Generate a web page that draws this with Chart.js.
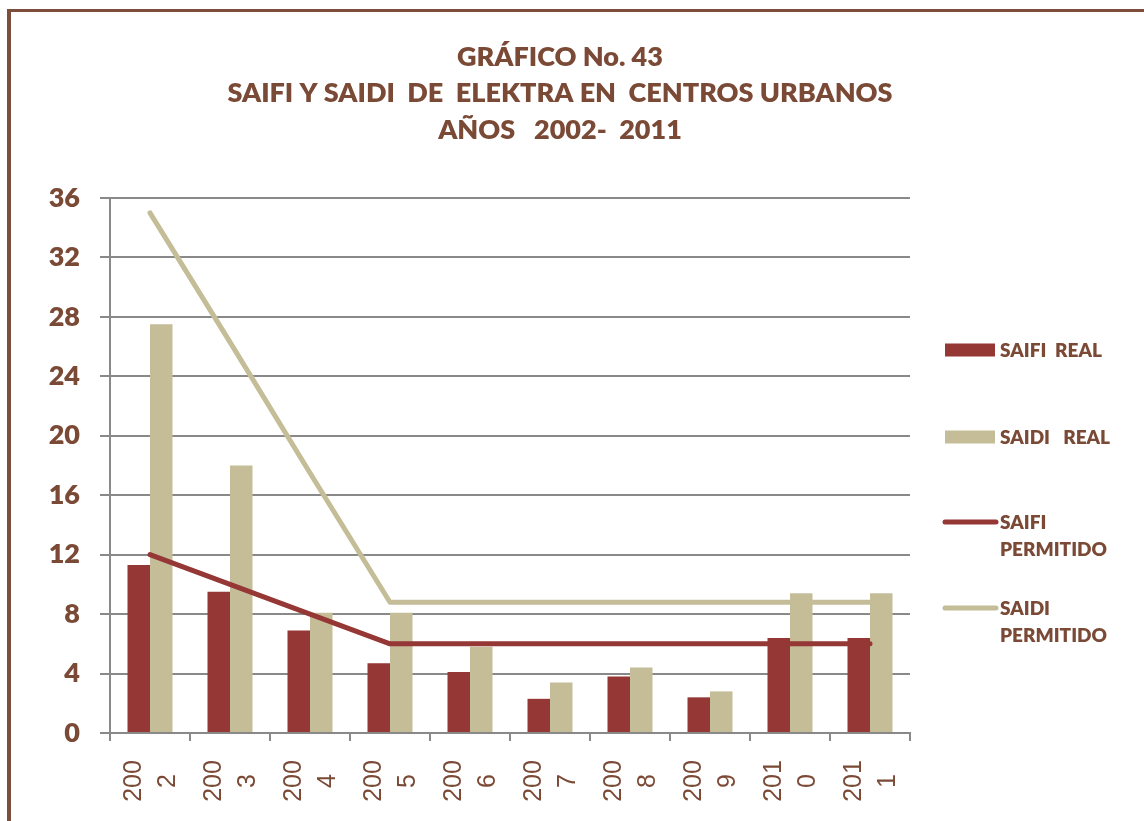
<!DOCTYPE html>
<html>
<head>
<meta charset="utf-8">
<title>SAIFI y SAIDI de Elektra</title>
<script src="https://cdn.jsdelivr.net/npm/chart.js@4.4.1/dist/chart.umd.min.js"></script>
<style>
  html, body { margin: 0; padding: 0; background: #fff; }
  #wrap { width: 1144px; height: 821px; position: relative; }
</style>
</head>
<body>
<div id="wrap"><canvas id="chart"></canvas></div>
<script>
// Values
const YEARS = ['2002', '2003', '2004', '2005', '2006', '2007', '2008', '2009', '2010', '2011'];
const SAIFI_REAL = [11.3, 9.5, 6.9, 4.7, 4.1, 2.3, 3.8, 2.4, 6.4, 6.4];
const SAIDI_REAL = [27.5, 18.0, 8.1, 8.1, 5.8, 3.4, 4.4, 2.8, 9.4, 9.4];
const SAIFI_PERMITIDO = [12, 10, 8, 6, 6, 6, 6, 6, 6, 6];
const SAIDI_PERMITIDO = [35, 26.3, 17.5, 8.8, 8.8, 8.8, 8.8, 8.8, 8.8, 8.8];
const Y_MAX = 36;
const Y_STEP = 4;

const TITLE_LINES = ['GRÁFICO No. 43', 'SAIFI Y SAIDI  DE  ELEKTRA EN  CENTROS URBANOS', 'AÑOS   2002-  2011'];
const LEGEND_LABELS = [['SAIFI  REAL'], ['SAIDI   REAL'], ['SAIFI', 'PERMITIDO'], ['SAIDI', 'PERMITIDO']];

const RED = '#953735';
const TAN = '#C4BD97';
const BROWN = '#7B4A36';
const GRID = '#898989';

// white page with the brown frame on top and left
const framePlugin = {
  id: 'frame',
  beforeDraw(chart) {
    const { ctx, width, height } = chart;
    ctx.save();
    ctx.fillStyle = '#fff';
    ctx.fillRect(0, 0, width, height);
    ctx.fillStyle = '#7D4E3B';
    ctx.fillRect(7, 9, width - 7, 3);
    ctx.fillRect(7, 9, 4, height - 9);
    ctx.restore();
  },
};

const titlePlugin = {
  id: 'pageTitle',
  afterDraw(chart) {
    const { ctx } = chart;
    ctx.save();
    ctx.fillStyle = BROWN;
    ctx.font = '800 27px Lato';
    ctx.textAlign = 'center';
    ctx.textBaseline = 'middle';
    TITLE_LINES.forEach((line, i) => ctx.fillText(line, 560, 57 + i * 36.5));
    ctx.restore();
  },
};

// year labels split in two lines ("200" / "2"), rotated and centred
const yearLabelPlugin = {
  id: 'yearLabels',
  afterDraw(chart) {
    const { ctx } = chart;
    const xScale = chart.scales.x;
    ctx.save();
    ctx.fillStyle = BROWN;
    ctx.font = '25px "Liberation Sans"';
    ctx.textAlign = 'center';
    ctx.textBaseline = 'middle';
    YEARS.forEach((year, i) => {
      const cx = xScale.getPixelForValue(i);
      const parts = [year.slice(0, 3), year.slice(3)];
      parts.forEach((part, j) => {
        ctx.save();
        ctx.translate(cx - 16 + j * 34, 781);
        ctx.rotate(-Math.PI / 2);
        ctx.fillText(part, 0, 0);
        ctx.restore();
      });
    });
    ctx.restore();
  },
};

const legendPlugin = {
  id: 'sideLegend',
  afterDraw(chart) {
    const { ctx } = chart;
    const rows = [350, 437, 522, 608];
    ctx.save();
    ctx.font = '800 19px Lato';
    ctx.textBaseline = 'middle';
    ctx.textAlign = 'left';
    chart.data.datasets.forEach((ds, i) => {
      const y = rows[i];
      if (ds.type === 'line') {
        ctx.strokeStyle = ds.borderColor;
        ctx.lineWidth = 5;
        ctx.lineCap = 'round';
        ctx.beginPath();
        ctx.moveTo(945, y);
        ctx.lineTo(996, y);
        ctx.stroke();
      } else {
        ctx.fillStyle = ds.backgroundColor;
        ctx.fillRect(945, y - 6.5, 50, 13);
      }
      ctx.fillStyle = BROWN;
      LEGEND_LABELS[i].forEach((line, j) => ctx.fillText(line, 1000, y + 1 + j * 27));
    });
    ctx.restore();
  },
};

const lineDataset = (label, data, color) => ({
  type: 'line',
  label,
  data,
  borderColor: color,
  backgroundColor: color,
  borderWidth: 5,
  borderCapStyle: 'round',
  borderJoinStyle: 'round',
  pointRadius: 0,
  tension: 0,
  order: 1,
});

const barDataset = (label, data, color) => ({
  type: 'bar',
  label,
  data,
  backgroundColor: color,
  borderWidth: 0,
  barPercentage: 1,
  categoryPercentage: 0.5625,
  order: 2,
});

new Chart(document.getElementById('chart').getContext('2d'), {
  data: {
    labels: YEARS,
    datasets: [
      barDataset('SAIFI REAL', SAIFI_REAL, RED),
      barDataset('SAIDI REAL', SAIDI_REAL, TAN),
      lineDataset('SAIFI PERMITIDO', SAIFI_PERMITIDO, RED),
      lineDataset('SAIDI PERMITIDO', SAIDI_PERMITIDO, TAN),
    ],
  },
  options: {
    responsive: true,
    maintainAspectRatio: false,
    animation: false,
    layout: { padding: { top: 198, right: 234, left: 0, bottom: 0 } },
    plugins: {
      legend: { display: false },
      title: { display: false },
      tooltip: { enabled: false },
    },
    scales: {
      x: {
        offset: true,
        afterFit: (scale) => { scale.height = 88; },
        ticks: { display: false },
        grid: {
          display: true,
          offset: true,
          drawOnChartArea: false,
          drawTicks: true,
          tickLength: 8,
          color: GRID,
          lineWidth: 2,
        },
        border: { display: true, color: GRID, width: 2 },
      },
      y: {
        min: 0,
        max: Y_MAX,
        afterFit: (scale) => { scale.width = 110; },
        ticks: {
          stepSize: Y_STEP,
          padding: 20,
          color: BROWN,
          font: { family: 'Lato', size: 27, weight: '800' },
        },
        grid: {
          color: GRID,
          lineWidth: 2,
          tickLength: 10,
        },
        border: { display: true, color: GRID, width: 2 },
      },
    },
  },
  plugins: [framePlugin, titlePlugin, yearLabelPlugin, legendPlugin],
});
</script>
</body>
</html>
